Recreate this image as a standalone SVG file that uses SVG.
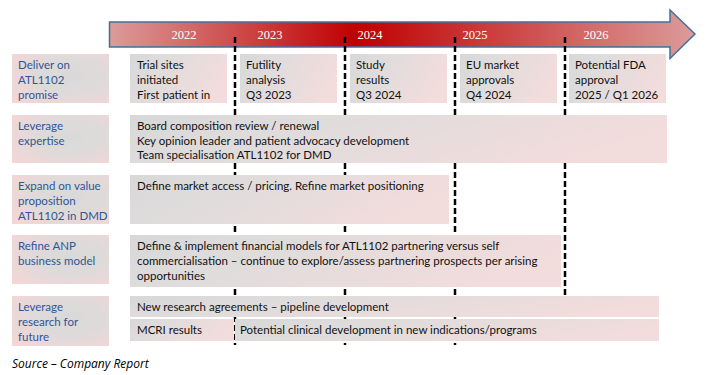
<svg xmlns="http://www.w3.org/2000/svg" width="706" height="375" viewBox="0 0 706 375">
<defs>
<linearGradient id="arrowGrad" gradientUnits="userSpaceOnUse" x1="110" y1="0" x2="695" y2="0">
<stop offset="0" stop-color="#dc9b9b"/>
<stop offset="0.42" stop-color="#c00000"/>
<stop offset="1" stop-color="#dc9b9b"/>
</linearGradient>
<linearGradient id="boxGrad" x1="0" y1="0" x2="1" y2="0.3">
<stop offset="0" stop-color="#d8d8d8"/>
<stop offset="0.35" stop-color="#dfdcdc"/>
<stop offset="1" stop-color="#f2dcdc"/>
</linearGradient>
<radialGradient id="labelGrad" cx="0.6" cy="0.45" r="0.75">
<stop offset="0" stop-color="#d9d9d9"/>
<stop offset="0.45" stop-color="#dedada"/>
<stop offset="1" stop-color="#f4d6d6"/>
</radialGradient>
</defs>
<style>
.lbl{fill:url(#labelGrad)}
.box{fill:url(#boxGrad)}
.lt{font-family:Lato,"Liberation Sans",sans-serif;font-size:11.5px;fill:#2f5597}
.ct{font-family:Lato,"Liberation Sans",sans-serif;font-size:11.5px;fill:#111}
.yr{font-family:"Liberation Serif",serif;font-size:12.5px;fill:#ffffff;text-anchor:middle}
.div{stroke:#000;stroke-width:2.5;stroke-dasharray:6 3;fill:none}
.src{font-family:"Open Sans","Liberation Sans",sans-serif;font-size:12px;font-style:italic;fill:#000}
</style>
<rect width="706" height="375" fill="#fff"/>

<g id="timeline-arrow">
<path d="M109.5 22 H670 V10 L695 34 L670 58.5 V47 H109.5 Z" fill="url(#arrowGrad)" stroke="#41719c" stroke-width="1.5"/>
<text class="yr" x="184" y="39">2022</text>
<text class="yr" x="270" y="39">2023</text>
<text class="yr" x="370" y="39">2024</text>
<text class="yr" x="475" y="39">2025</text>
<text class="yr" x="596" y="39">2026</text>
</g>

<g id="connectors">
<line class="div" x1="235" y1="37" x2="235" y2="345"/>
<line class="div" x1="345" y1="37" x2="345" y2="345"/>
<line class="div" x1="455" y1="37" x2="455" y2="345"/>
<line class="div" x1="565" y1="37" x2="565" y2="296"/>
</g>

<g id="label-deliver">
<rect class="lbl" x="12" y="54" width="97" height="49"/>
<text class="lt" x="18" y="69">Deliver on</text>
<text class="lt" x="18" y="84">ATL1102</text>
<text class="lt" x="18" y="99">promise</text>
</g>
<g id="m-2022">
<rect class="box" x="130" y="54" width="97" height="49"/>
<text class="ct" x="137" y="69">Trial sites</text>
<text class="ct" x="137" y="84">initiated</text>
<text class="ct" x="137" y="99">First patient in</text>
</g>
<g id="m-2023">
<rect class="box" x="240" y="54" width="97" height="49"/>
<text class="ct" x="246" y="69">Futility</text>
<text class="ct" x="246" y="84">analysis</text>
<text class="ct" x="246" y="99">Q3 2023</text>
</g>
<g id="m-2024">
<rect class="box" x="350" y="54" width="97" height="49"/>
<text class="ct" x="356" y="69">Study</text>
<text class="ct" x="356" y="84">results</text>
<text class="ct" x="356" y="99">Q3 2024</text>
</g>
<g id="m-2025">
<rect class="box" x="460" y="54" width="97" height="49"/>
<text class="ct" x="466" y="69">EU market</text>
<text class="ct" x="466" y="84">approvals</text>
<text class="ct" x="466" y="99">Q4 2024</text>
</g>
<g id="m-2026">
<rect class="box" x="569" y="54" width="97" height="49"/>
<text class="ct" x="575" y="69">Potential FDA</text>
<text class="ct" x="575" y="84">approval</text>
<text class="ct" x="575" y="99">2025 / Q1 2026</text>
</g>

<g id="label-expertise">
<rect class="lbl" x="12" y="115" width="97" height="48"/>
<text class="lt" x="18" y="130">Leverage</text>
<text class="lt" x="18" y="145">expertise</text>
</g>
<g id="bar-expertise">
<rect class="box" x="130" y="115" width="537" height="48"/>
<text class="ct" x="137" y="130">Board composition review / renewal</text>
<text class="ct" x="137" y="144.5">Key opinion leader and patient advocacy development</text>
<text class="ct" x="137" y="159">Team specialisation ATL1102 for DMD</text>
</g>

<g id="label-value">
<rect class="lbl" x="12" y="175" width="97" height="49"/>
<text class="lt" x="18" y="190">Expand on value</text>
<text class="lt" x="18" y="205">proposition</text>
<text class="lt" x="18" y="220">ATL1102 in DMD</text>
</g>
<g id="bar-value">
<rect class="box" x="130" y="175" width="319" height="49"/>
<text class="ct" x="137" y="190">Define market access / pricing. Refine market positioning</text>
</g>

<g id="label-anp">
<rect class="lbl" x="12" y="235" width="97" height="49"/>
<text class="lt" x="18" y="249.5">Refine ANP</text>
<text class="lt" x="18" y="265">business model</text>
</g>
<g id="bar-anp">
<rect class="box" x="130" y="235" width="431" height="52"/>
<text class="ct" x="137" y="249.5">Define &amp; implement financial models for ATL1102 partnering versus self</text>
<text class="ct" x="137" y="265">commercialisation – continue to explore/assess partnering prospects per arising</text>
<text class="ct" x="137" y="280">opportunities</text>
</g>

<g id="label-research">
<rect class="lbl" x="12" y="296" width="97" height="50"/>
<text class="lt" x="18" y="311">Leverage</text>
<text class="lt" x="18" y="326">research for</text>
<text class="lt" x="18" y="341">future</text>
</g>
<g id="bar-research">
<rect class="box" x="130" y="296" width="529" height="21"/>
<text class="ct" x="137" y="311">New research agreements – pipeline development</text>
</g>
<g id="bar-mcri">
<rect class="box" x="130" y="319" width="104" height="22"/>
<text class="ct" x="137" y="334">MCRI results</text>
</g>
<g id="bar-clinical">
<rect class="box" x="235" y="319" width="424" height="22"/>
<text class="ct" x="240" y="334">Potential clinical development in new indications/programs</text>
</g>

<text class="src" x="12" y="368">Source – Company Report</text>
</svg>
